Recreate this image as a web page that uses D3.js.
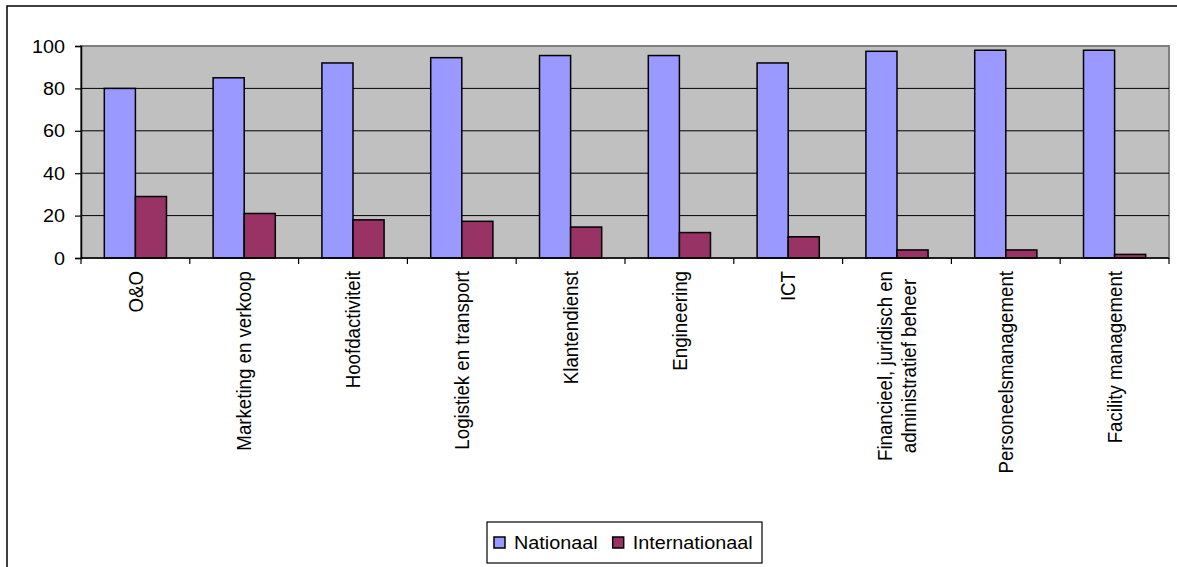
<!DOCTYPE html>
<html>
<head>
<meta charset="utf-8">
<script src="https://cdn.jsdelivr.net/npm/d3@7"></script>
<style>
  html, body { margin: 0; padding: 0; background: #fff; }
  svg { display: block; font-family: "Liberation Sans", Arial, sans-serif; }
</style>
</head>
<body>
<svg id="chart" width="1177" height="567"></svg>
<script>
// Activity categories (line breaks marked with "\n")
const categories = [
  "O&O",
  "Marketing en verkoop",
  "Hoofdactiviteit",
  "Logistiek en transport",
  "Klantendienst",
  "Engineering",
  "ICT",
  "Financieel, juridisch en\nadministratief beheer",
  "Personeelsmanagement",
  "Facility management"
];
const seriesNames = ["Nationaal", "Internationaal"];
const nationaal = [80, 85, 92, 94.5, 95.5, 95.5, 92, 97.5, 98, 98];
const internationaal = [29, 21, 18, 17.3, 14.6, 12, 10, 3.8, 3.8, 1.7];
const yTicks = [0, 20, 40, 60, 80, 100];
const colors = ["#9999FF", "#993366"];

const svg = d3.select("#chart");
const fontSize = 18.7;
const stretchX = 1.06;   // the chart is drawn slightly wider than tall

// chart outer frame
svg.append("rect")
  .attr("x", 7).attr("y", 6)
  .attr("width", 1190).attr("height", 600)
  .attr("fill", "#fff").attr("stroke", "#000").attr("stroke-width", 1.5);

const plot = { left: 81, right: 1169, top: 46, bottom: 258 };

const x = d3.scaleBand().domain(categories).range([plot.left, plot.right]).padding(0);
const y = d3.scaleLinear().domain([0, 100]).range([plot.bottom, plot.top]);

// plot area
svg.append("rect")
  .attr("x", plot.left).attr("y", plot.top)
  .attr("width", plot.right - plot.left).attr("height", plot.bottom - plot.top)
  .attr("fill", "#C0C0C0").attr("stroke", "#808080").attr("stroke-width", 2);

// gridlines
svg.append("g")
  .selectAll("line")
  .data(yTicks.filter(t => t > 0 && t < 100))
  .join("line")
  .attr("x1", plot.left).attr("x2", plot.right)
  .attr("y1", d => y(d)).attr("y2", d => y(d))
  .attr("stroke", "#000").attr("stroke-width", 1);

// bars
const barW = x.bandwidth() / 3.5;
const gap = barW * 0.75;
const series = [nationaal, internationaal];
series.forEach((vals, si) => {
  svg.append("g")
    .selectAll("rect")
    .data(vals)
    .join("rect")
    .attr("x", (d, i) => x(categories[i]) + gap + si * barW)
    .attr("y", d => y(d))
    .attr("width", barW)
    .attr("height", d => y(0) - y(d))
    .attr("fill", colors[si])
    .attr("stroke", "#000")
    .attr("stroke-width", 1.5);
});

// y axis (line + ticks from d3, labels stretched to the chart's aspect)
const yAxis = d3.axisLeft(y).tickValues(yTicks).tickSize(6).tickFormat("");
const gy = svg.append("g").attr("transform", `translate(${plot.left},0)`).call(yAxis);
gy.select(".domain").attr("stroke", "#000").attr("stroke-width", 1.5);
gy.selectAll(".tick line").attr("stroke", "#000").attr("stroke-width", 1.2);
svg.append("g")
  .selectAll("text")
  .data(yTicks)
  .join("text")
  .attr("transform", d => `translate(${plot.left - 16},${y(d)}) scale(${stretchX},1)`)
  .attr("dy", "0.35em")
  .attr("text-anchor", "end")
  .attr("font-size", fontSize)
  .attr("fill", "#000")
  .text(d => d);

// x axis line with ticks at category boundaries
const gx = svg.append("g");
gx.append("line")
  .attr("x1", plot.left).attr("x2", plot.right)
  .attr("y1", y(0)).attr("y2", y(0))
  .attr("stroke", "#000").attr("stroke-width", 1.5);
const bounds = categories.map(c => x(c)).concat([plot.right]);
gx.selectAll("line.tick")
  .data(bounds)
  .join("line")
  .attr("class", "tick")
  .attr("x1", d => d).attr("x2", d => d)
  .attr("y1", y(0)).attr("y2", y(0) + 6)
  .attr("stroke", "#000").attr("stroke-width", 1.2);

// rotated category labels
const lineH = 23;
const labelTop = 271;
categories.forEach(c => {
  const lines = c.split("\n");
  const cx = x(c) + x.bandwidth() / 2;
  const n = lines.length;
  const t = svg.append("text")
    .attr("font-size", fontSize)
    .attr("fill", "#000")
    .attr("transform", `translate(${cx},${labelTop}) scale(${stretchX},1) rotate(-90)`);
  lines.forEach((ln, i) => {
    t.append("tspan")
      .attr("x", 0)
      .attr("y", (i - (n - 1) / 2) * lineH + fontSize * 0.36)
      .attr("text-anchor", n > 1 ? "middle" : "end")
      .text(ln);
  });
  if (n > 1) {
    // centre the lines against each other, block aligned at the top
    const widths = [];
    t.selectAll("tspan").each(function () { widths.push(this.getComputedTextLength()); });
    const maxW = d3.max(widths);
    t.selectAll("tspan").attr("x", -maxW / 2);
  }
});

// legend
const legend = svg.append("g");
legend.append("rect")
  .attr("x", 487).attr("y", 522)
  .attr("width", 275).attr("height", 41)
  .attr("fill", "#fff").attr("stroke", "#000").attr("stroke-width", 1.2);
let lx = 494;
seriesNames.forEach((name, i) => {
  legend.append("rect")
    .attr("x", lx).attr("y", 537)
    .attr("width", 11).attr("height", 11)
    .attr("fill", colors[i]).attr("stroke", "#000").attr("stroke-width", 1.5);
  const txt = legend.append("text")
    .attr("transform", `translate(${lx + 20},549) scale(${stretchX},1)`)
    .attr("font-size", fontSize).attr("fill", "#000")
    .text(name);
  lx += 20 + txt.node().getComputedTextLength() * stretchX + 15;
});
</script>
</body>
</html>
